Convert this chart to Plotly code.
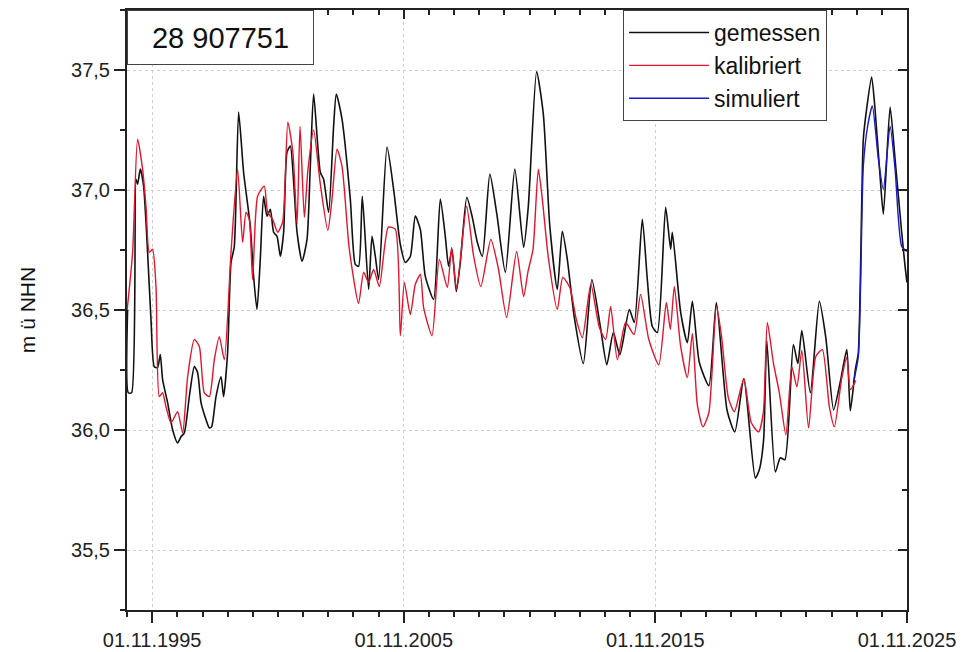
import plotly.graph_objects as go
import pandas as pd

# ---- data (decimal year, m ü NHN) ----
gem_year = [1994.857, 1994.885, 1995.016, 1995.191, 1995.254, 1995.362, 1995.493, 1995.652, 1995.787, 1995.918,
            1996.049, 1996.157, 1996.248, 1996.447, 1996.645, 1996.844, 1996.979, 1997.110, 1997.309, 1997.508,
            1997.639, 1997.774, 1997.973, 1998.104, 1998.195, 1998.370, 1998.569, 1998.672, 1998.831, 1998.967,
            1999.098, 1999.269, 1999.467, 1999.734, 1999.865, 2000.000, 2000.131, 2000.262, 2000.397, 2000.529,
            2000.660, 2000.795, 2000.926, 2001.057, 2001.192, 2001.324, 2001.455, 2001.590, 2001.789, 2001.987,
            2002.118, 2002.250, 2002.516, 2002.647, 2002.846, 2003.045, 2003.152, 2003.378, 2003.708, 2003.907,
            2004.038, 2004.185, 2004.436, 2004.571, 2004.702, 2004.833, 2005.167, 2005.429, 2005.696, 2005.894,
            2006.093, 2006.292, 2006.491, 2006.689, 2007.019, 2007.285, 2007.484, 2007.615, 2007.750, 2007.922,
            2008.081, 2008.339, 2008.557, 2008.756, 2008.955, 2009.253, 2009.531, 2009.869, 2010.246, 2010.596,
            2010.783, 2011.113, 2011.379, 2011.638, 2011.936, 2012.134, 2012.333, 2012.611, 2012.969, 2013.307,
            2013.645, 2013.903, 2014.162, 2014.420, 2014.798, 2014.996, 2015.314, 2015.513, 2015.712, 2015.911,
            2016.241, 2016.439, 2016.507, 2016.837, 2017.103, 2017.302, 2017.580, 2017.958, 2018.256, 2018.685,
            2018.991, 2019.349, 2019.806, 2019.965, 2020.135, 2020.262, 2020.600, 2020.799, 2020.978, 2021.316,
            2021.495, 2021.654, 2021.991, 2022.349, 2022.607, 2022.917, 2023.184, 2023.442, 2023.581, 2023.780,
            2023.899, 2024.098, 2024.229, 2024.428, 2024.563, 2024.762, 2024.893, 2025.160, 2025.358, 2025.621,
            2025.756, 2025.830]
gem_val = [36.502, 36.155, 36.155, 37.045, 37.024, 37.087, 37.016, 36.740, 36.460, 36.264,
           36.260, 36.314, 36.210, 36.114, 36.001, 35.946, 35.972, 35.988, 36.139, 36.264,
           36.239, 36.114, 36.043, 36.009, 36.013, 36.139, 36.222, 36.139, 36.322, 36.698,
           36.765, 37.325, 37.074, 36.849, 36.640, 36.502, 36.711, 36.974, 36.891, 36.920,
           36.824, 36.807, 36.723, 36.824, 37.158, 37.183, 37.033, 36.824, 36.703, 36.794,
           37.099, 37.400, 37.074, 37.045, 36.907, 37.266, 37.400, 37.296, 36.962, 36.690,
           36.682, 36.974, 36.586, 36.807, 36.723, 36.627, 37.179, 37.003, 36.773, 36.698,
           36.723, 36.891, 36.836, 36.640, 36.544, 36.962, 36.807, 36.682, 36.753, 36.577,
           36.698, 36.970, 36.886, 36.782, 36.723, 37.066, 36.899, 36.657, 37.087, 36.761,
           36.932, 37.492, 37.317, 36.849, 36.586, 36.828, 36.711, 36.469, 36.277, 36.627,
           36.431, 36.272, 36.406, 36.314, 36.502, 36.448, 36.878, 36.627, 36.431, 36.406,
           36.928, 36.753, 36.824, 36.490, 36.364, 36.536, 36.281, 36.185, 36.531, 36.080,
           35.992, 36.214, 35.800, 35.834, 35.959, 36.373, 35.825, 35.884, 35.876, 36.356,
           36.277, 36.414, 36.155, 36.536, 36.385, 36.084, 36.201, 36.335, 36.080, 36.251,
           36.322, 37.212, 37.337, 37.471, 37.337, 37.058, 36.899, 37.346, 37.129, 36.824,
           36.682, 36.615]

kal_year = [1994.840, 1995.056, 1995.254, 1995.453, 1995.588, 1995.719, 1995.850, 1995.986, 1996.117, 1996.248,
            1996.383, 1996.582, 1996.844, 1997.043, 1997.242, 1997.508, 1997.707, 1997.905, 1998.104, 1998.303,
            1998.502, 1998.700, 1998.967, 1999.229, 1999.428, 1999.563, 1999.694, 1999.825, 2000.024, 2000.290,
            2000.421, 2000.620, 2000.819, 2001.018, 2001.224, 2001.423, 2001.590, 2001.709, 2001.880, 2002.019,
            2002.250, 2002.516, 2002.814, 2002.981, 2003.180, 2003.378, 2003.669, 2004.038, 2004.237, 2004.436,
            2004.634, 2004.861, 2005.219, 2005.497, 2005.696, 2005.855, 2006.093, 2006.292, 2006.491, 2006.622,
            2006.956, 2007.246, 2007.564, 2007.735, 2007.934, 2008.331, 2008.597, 2008.895, 2009.293, 2009.591,
            2009.921, 2010.318, 2010.596, 2010.771, 2010.970, 2011.181, 2011.340, 2011.578, 2011.936, 2012.154,
            2012.433, 2012.691, 2012.930, 2013.267, 2013.605, 2013.856, 2014.054, 2014.321, 2014.650, 2014.984,
            2015.246, 2015.572, 2015.970, 2016.268, 2016.427, 2016.586, 2016.837, 2017.103, 2017.302, 2017.500,
            2017.719, 2017.958, 2018.256, 2018.454, 2018.733, 2018.971, 2019.349, 2019.646, 2019.937, 2020.124,
            2020.283, 2020.521, 2020.760, 2021.018, 2021.256, 2021.455, 2021.654, 2021.920, 2022.210, 2022.468,
            2022.747, 2022.945, 2023.244, 2023.442, 2023.581, 2023.800]
kal_val = [36.502, 36.740, 37.212, 37.087, 36.932, 36.740, 36.753, 36.598, 36.139, 36.155,
           36.097, 36.030, 36.076, 35.988, 36.222, 36.377, 36.348, 36.155, 36.139, 36.293,
           36.389, 36.293, 36.740, 37.087, 36.782, 36.907, 36.878, 36.627, 36.974, 37.016,
           36.907, 36.878, 36.824, 36.866, 37.283, 37.158, 36.857, 37.266, 36.886, 37.079,
           37.250, 37.024, 36.832, 36.962, 37.170, 37.099, 36.753, 36.527, 36.657, 36.615,
           36.669, 36.598, 36.845, 36.836, 36.393, 36.615, 36.481, 36.607, 36.648, 36.510,
           36.393, 36.711, 36.594, 36.761, 36.586, 36.932, 36.732, 36.598, 36.794, 36.673,
           36.469, 36.744, 36.556, 36.661, 36.753, 37.087, 36.962, 36.719, 36.502, 36.636,
           36.594, 36.460, 36.385, 36.607, 36.427, 36.377, 36.515, 36.293, 36.448, 36.398,
           36.565, 36.377, 36.272, 36.531, 36.419, 36.598, 36.348, 36.218, 36.402, 36.105,
           36.013, 36.072, 36.515, 36.398, 36.134, 36.076, 36.214, 36.030, 35.992, 36.072,
           36.448, 36.281, 36.155, 35.980, 36.264, 36.180, 36.331, 36.009, 36.306, 36.335,
           36.097, 36.013, 36.218, 36.302, 36.168, 36.206]

sim_year = [2023.701, 2023.899, 2024.098, 2024.269, 2024.455, 2024.694, 2024.893, 2025.160, 2025.358, 2025.621,
            2025.830]
sim_val = [36.197, 36.306, 37.099, 37.266, 37.350, 37.129, 37.003, 37.266, 37.087, 36.765,
           36.744]

series_names = ["gemessen", "kalibriert", "simuliert"]
station_label = "28 907751"
y_title = "m ü NHN"


def to_dates(years):
    out = []
    for y in years:
        yi = int(y)
        start = pd.Timestamp(year=yi, month=1, day=1)
        end = pd.Timestamp(year=yi + 1, month=1, day=1)
        out.append(start + (end - start) * (y - yi))
    return out


FONT = "Liberation Sans, Arial, sans-serif"
fig = go.Figure()
fig.add_trace(go.Scatter(x=to_dates(gem_year), y=gem_val, mode="lines", name=series_names[0],
                         line=dict(color="#111111", width=1.6, shape="spline", smoothing=0.6)))
fig.add_trace(go.Scatter(x=to_dates(kal_year), y=kal_val, mode="lines", name=series_names[1],
                         line=dict(color="#e3152d", width=1.4, shape="spline", smoothing=0.6)))
fig.add_trace(go.Scatter(x=to_dates(sim_year), y=sim_val, mode="lines", name=series_names[2],
                         line=dict(color="#1a1ac8", width=1.4, shape="spline", smoothing=0.6)))
# helper trace for mirrored (inside) ticks on top/right
fig.add_trace(go.Scatter(x=to_dates(gem_year[:1]), y=gem_val[:1], mode="lines", xaxis="x2", yaxis="y2",
                         showlegend=False, hoverinfo="skip", line=dict(width=0)))

xr = ["1994-11-01", "2025-11-01"]
yr = [35.25, 37.75]
common_x = dict(type="date", range=xr, dtick="M120", tick0="1995-11-01", tickformat="%d.%m.%Y",
                tickcolor="#222", tickwidth=1.5, showline=True, linecolor="#222", linewidth=2,
                automargin=False)
common_y = dict(range=yr, dtick=0.5, tick0=35.5, tickformat=".1f", tickcolor="#222", tickwidth=1.5,
                showline=True, linecolor="#222", linewidth=2, automargin=False)

fig.update_layout(
    width=961, height=652,
    margin=dict(l=127, r=54, t=10, b=42, autoexpand=False),
    paper_bgcolor="white", plot_bgcolor="white",
    separators=",.",
    font=dict(family=FONT, color="#222", size=20),
    xaxis=dict(**common_x, ticks="outside", ticklen=11,
               showgrid=True, gridcolor="#cfcfcf", griddash="dot", gridwidth=1,
               minor=dict(dtick="M12", tick0="1994-11-01", ticks="outside", ticklen=5,
                          tickcolor="#222", tickwidth=1.5, showgrid=False),
               tickfont=dict(size=20, color="#222"), zeroline=False),
    yaxis=dict(**common_y, ticks="outside", ticklen=11,
               showgrid=True, gridcolor="#cfcfcf", griddash="dot", gridwidth=1,
               minor=dict(dtick=0.25, tick0=35.25, ticks="outside", ticklen=5,
                          tickcolor="#222", tickwidth=1.5, showgrid=False),
               tickfont=dict(size=20, color="#222"), zeroline=False,
               title=dict(text=y_title, font=dict(size=21, color="#111"), standoff=30)),
    xaxis2=dict(**common_x, overlaying="x", side="top", anchor="y", ticks="inside", ticklen=9,
                showticklabels=False, showgrid=False, zeroline=False,
                minor=dict(dtick="M12", tick0="1994-11-01", ticks="inside", ticklen=5,
                           tickcolor="#222", tickwidth=1.5)),
    yaxis2=dict(**common_y, overlaying="y", side="right", anchor="x", ticks="inside", ticklen=9,
                showticklabels=False, showgrid=False, zeroline=False,
                minor=dict(dtick=0.25, tick0=35.25, ticks="inside", ticklen=5,
                           tickcolor="#222", tickwidth=1.5)),
    legend=dict(x=0.636, y=1, xanchor="left", yanchor="top", bgcolor="white",
                bordercolor="#444", borderwidth=1, font=dict(size=23, color="#111"),
                itemwidth=80, tracegroupgap=0),
    showlegend=True,
    annotations=[dict(text=station_label, xref="paper", yref="paper", x=0, y=1,
                      xanchor="left", yanchor="top", showarrow=False,
                      font=dict(size=29, color="#111"), bgcolor="white",
                      bordercolor="#444", borderwidth=1, width=183, height=51, align="center")],
)

fig.write_html("out.html")
